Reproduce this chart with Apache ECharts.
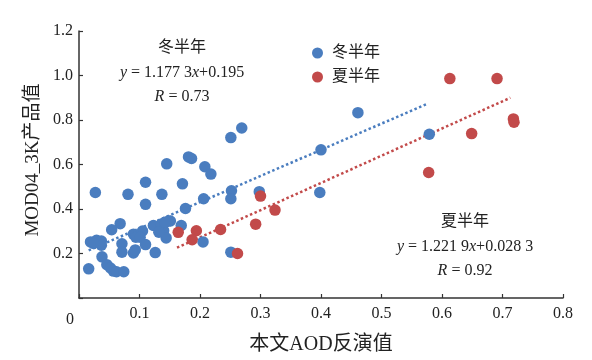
<!DOCTYPE html>
<html><head><meta charset="utf-8">
<script src="https://cdn.jsdelivr.net/npm/echarts@6/dist/echarts.min.js"></script>
<style>html,body{margin:0;padding:0;background:#fff}#c{width:592px;height:360px}</style>
</head><body><div id="c"></div>
<script>
const winterPoints = [
[0.269,0.764],[0.251,0.721],[0.145,0.603],[0.181,0.634],[0.186,0.627],[0.208,0.590],[0.218,0.557],
[0.110,0.520],[0.171,0.513],[0.027,0.474],[0.081,0.466],[0.137,0.466],[0.110,0.421],[0.176,0.402],
[0.206,0.446],[0.252,0.482],[0.251,0.446],[0.298,0.478],[0.461,0.833],[0.400,0.666],[0.398,0.474],
[0.579,0.736],[0.068,0.334],[0.054,0.307],[0.019,0.252],[0.029,0.259],[0.037,0.256],[0.037,0.237],
[0.024,0.245],[0.071,0.244],[0.071,0.206],[0.090,0.287],[0.094,0.273],[0.105,0.301],[0.101,0.273],
[0.110,0.240],[0.090,0.202],[0.093,0.216],[0.123,0.326],[0.136,0.332],[0.148,0.346],[0.140,0.302],
[0.144,0.270],[0.126,0.204],[0.151,0.346],[0.169,0.326],[0.205,0.252],[0.251,0.206],[0.038,0.185],
[0.016,0.131],[0.046,0.150],[0.052,0.135],[0.057,0.121],[0.062,0.118],[0.074,0.118],[0.132,0.296],
[0.142,0.340]
];
const summerPoints = [
[0.613,0.986],[0.691,0.986],[0.718,0.805],[0.719,0.790],[0.649,0.739],[0.578,0.564],[0.300,0.458],
[0.324,0.395],[0.292,0.332],[0.234,0.308],[0.194,0.302],[0.164,0.295],[0.187,0.262],[0.262,0.200]
];
const winterTrend = [[0.016,0.214],[0.575,0.872]];
const summerTrend = [[0.162,0.226],[0.713,0.900]];
const seriesNames = ['冬半年','夏半年'];
const xTicks = [0,0.1,0.2,0.3,0.4,0.5,0.6,0.7,0.8];
const yTicks = [0,0.2,0.4,0.6,0.8,1.0,1.2];
const xTitle = '本文AOD反演值';
const yTitle = 'MOD04_3K产品值';
const winterText = ['冬半年','y = 1.177 3x+0.195','R = 0.73'];
const summerText = ['夏半年','y = 1.221 9x+0.028 3','R = 0.92'];

const BLUE = '#4a7dbf', RED = '#c24a4a';
const FONT = "'Liberation Serif','Noto Sans CJK SC',serif";
const chart = echarts.init(document.getElementById('c'));

function eqRich(s){
  return s.replace(/^(y|R)/,'{i|$1}').replace(/(\d)x/,'$1{i|x}');
}
const rich = {i:{fontStyle:'italic',fontFamily:FONT,fontSize:16,color:'#222'}};
const graphics = [];
[[winterText,182,48],[summerText,465,222]].forEach(([lines,cx,y0])=>{
  lines.forEach((t,k)=>{
    graphics.push({type:'text', x:cx, y:y0+k*24.5,
      style:{text: k===0 ? t : eqRich(t), align:'center', verticalAlign:'middle',
        fontFamily:FONT, fontSize:16, fill:'#222', rich: rich}});
  });
});
graphics.push({type:'text', x:70, y:320, style:{text:'0', align:'center', verticalAlign:'middle', fontFamily:FONT, fontSize:16, fill:'#222'}});
graphics.push({type:'text', x:33, y:160, rotation:Math.PI/2,
  style:{text:yTitle, align:'center', verticalAlign:'middle', fontFamily:FONT, fontSize:19, fill:'#222'}});

chart.setOption({
  backgroundColor:'#fff',
  animation:false,
  grid:{left:79, right:29, top:31, bottom:55},
  legend:{
    orient:'vertical', left:307, top:40, itemWidth:11, itemHeight:11, itemGap:8,
    icon:'circle',
    data:seriesNames,
    textStyle:{fontFamily:FONT, fontSize:16, color:'#222', lineHeight:16, padding:[0,0,0,4]}
  },
  xAxis:{
    type:'value', min:0, max:0.8, interval:0.1,
    name:xTitle, nameLocation:'middle', nameGap:37,
    nameTextStyle:{fontFamily:FONT, fontSize:20, color:'#222'},
    axisLine:{onZero:false, lineStyle:{color:'#333', width:1.5}},
    axisTick:{inside:true, length:4, lineStyle:{color:'#333', width:1.2}},
    axisLabel:{fontFamily:FONT, fontSize:16, color:'#222', margin:8,
      formatter:v=> v===0 ? '' : String(+v.toFixed(1))},
    splitLine:{show:false}
  },
  yAxis:{
    type:'value', min:0, max:1.2, interval:0.2,
    axisLine:{show:true, onZero:false, lineStyle:{color:'#333', width:1.5}},
    axisTick:{show:true, inside:true, length:4, lineStyle:{color:'#333', width:1.2}},
    axisLabel:{fontFamily:FONT, fontSize:16, color:'#222', margin:6,
      formatter:v=> v===0 ? '' : (+v).toFixed(1)},
    splitLine:{show:false}
  },
  graphic: graphics,
  series:[
    {name:seriesNames[0], type:'scatter', data:winterPoints, symbolSize:11.5,
      itemStyle:{color:BLUE, opacity:1}, z:3},
    {name:seriesNames[1], type:'scatter', data:summerPoints, symbolSize:11.5,
      itemStyle:{color:RED, opacity:1}, z:4},
    {type:'line', data:winterTrend, symbol:'none', silent:true, z:2,
      lineStyle:{color:BLUE, width:2.5, type:[2.5,2.5]}},
    {type:'line', data:summerTrend, symbol:'none', silent:true, z:2,
      lineStyle:{color:RED, width:2.5, type:[2.5,2.5]}}
  ]
});
</script></body></html>
